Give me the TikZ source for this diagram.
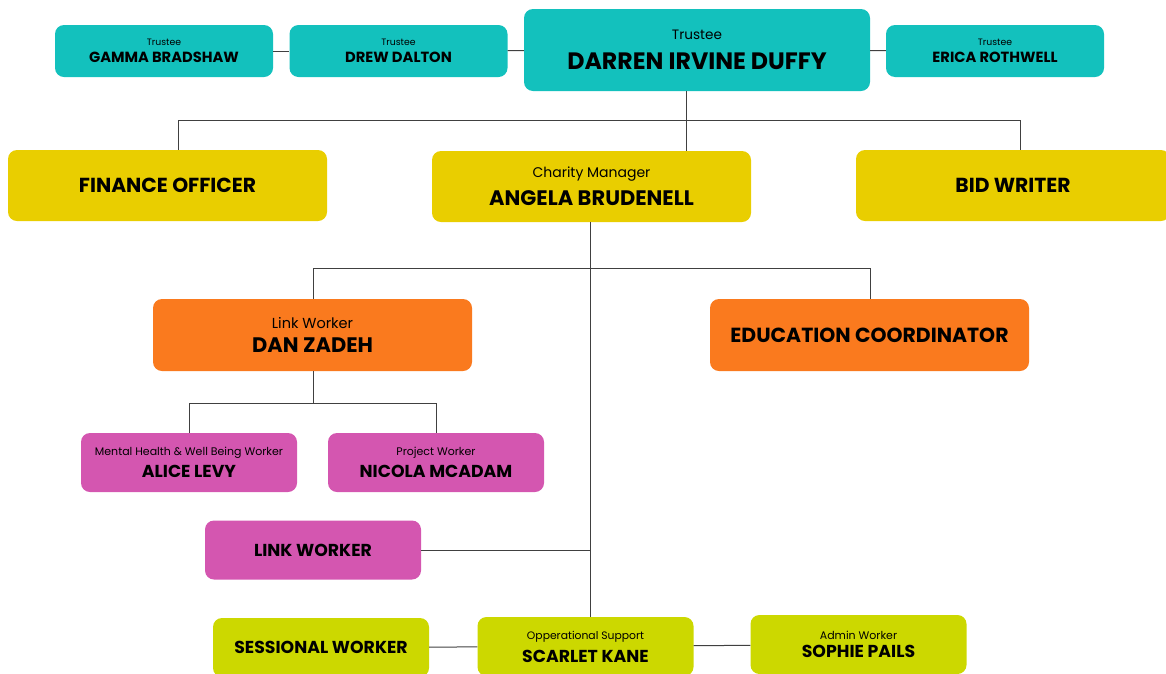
\documentclass[tikz,border=0pt]{standalone}
\usepackage{fontspec}
\setmainfont{Poppins}
\usetikzlibrary{positioning}
\definecolor{trusteeteal}{RGB}{19,193,189}
\definecolor{managergold}{RGB}{233,206,0}
\definecolor{workerorange}{RGB}{250,122,30}
\definecolor{workerpink}{RGB}{212,86,176}
\definecolor{supportlime}{RGB}{204,216,0}
\tikzset{
	wire/.style = {line width=1pt, draw=black!75},
	box/.style = {draw=none, rounded corners=9pt, align=center, inner sep=0pt},
	trustee/.style = {box, fill=trusteeteal, minimum width=218pt, minimum height=52pt},
	manager/.style = {box, fill=managergold, minimum width=319pt, minimum height=71pt},
	worker/.style = {box, fill=workerorange, minimum width=319pt, minimum height=72pt},
	staff/.style = {box, fill=workerpink, minimum width=216pt, minimum height=59pt},
	support/.style = {box, fill=supportlime, minimum width=216pt, minimum height=59pt}
}
% role line, then name line
\newcommand{\card}[5]{\fontsize{#1}{#1}\selectfont #2\\[#5]\fontsize{#3}{#3}\selectfont\bfseries #4}
\newcommand{\solo}[2]{\fontsize{#1}{#1}\selectfont\bfseries #2}
\begin{document}
\begin{tikzpicture}[x=1pt,y=-1pt]
	\useasboundingbox (0,0) rectangle (1166,673);
	% trustees
	\node (gamma) [trustee] at (164,51) {\card{9.3}{Trustee}{14.7}{GAMMA BRADSHAW}{5pt}};
	\node (drew) [trustee] at (398.5,51) {\card{9.3}{Trustee}{14.7}{DREW DALTON}{5pt}};
	\node (darren) [trustee, minimum width=346pt, minimum height=82pt] at (697,50) {\card{13.6}{Trustee}{23.7}{DARREN IRVINE DUFFY}{12pt}};
	\node (erica) [trustee] at (995,51) {\card{9.3}{Trustee}{14.7}{ERICA ROTHWELL}{5pt}};
	% management
	\node (finance) [manager] at (167.5,185.5) {\solo{20.3}{FINANCE OFFICER}};
	\node (angela) [manager] at (591.5,186.5) {\card{14}{Charity Manager}{21}{ANGELA BRUDENELL}{8pt}};
	\node (bid) [manager, minimum width=314pt] at (1013,185.5) {\solo{20.3}{BID WRITER}};
	% link and education
	\node (dan) [worker] at (312.5,335) {\card{14.5}{Link Worker}{21}{DAN ZADEH}{8pt}};
	\node (education) [worker] at (869.5,335) {\solo{20.4}{EDUCATION COORDINATOR}};
	% workers
	\node (alice) [staff] at (189,462.5) {\card{11}{Mental Health \& Well Being Worker}{17.3}{ALICE LEVY}{6pt}};
	\node (nicola) [staff] at (436,462.5) {\card{11}{Project Worker}{17.3}{NICOLA MCADAM}{6pt}};
	\node (link) [staff] at (313,550) {\solo{17.3}{LINK WORKER}};
	% support
	\node (sessional) [support] at (321,647.5) {\solo{17.3}{SESSIONAL WORKER}};
	\node (scarlet) [support] at (585.5,646.5) {\card{10.8}{Opperational Support}{17.3}{SCARLET KANE}{7pt}};
	\node (sophie) [support] at (858.5,644.5) {\card{11}{Admin Worker}{17.3}{SOPHIE PAILS}{5pt}};
	% bus points
	\coordinate (topbus) at (686,120);
	\coordinate (topbusl) at (178,120);
	\coordinate (topbusr) at (1020,120);
	\coordinate (midbus) at (590,268);
	\coordinate (midbusl) at (313,268);
	\coordinate (midbusr) at (870,268);
	\coordinate (lowbus) at (313,403);
	\coordinate (lowbusl) at (189,403);
	\coordinate (lowbusr) at (436,403);
	% connectors
	\draw[wire] (gamma) -- (drew);
	\draw[wire] (drew) -- (darren);
	\draw[wire] (darren) -- (erica);
	\draw[wire] (darren.south -| topbus) -- (topbus);
	\draw[wire] (topbusl) -- (topbusr);
	\draw[wire] (topbusl) -- (finance.north -| topbusl);
	\draw[wire] (topbus) -- (angela.north -| topbus);
	\draw[wire] (topbusr) -- (bid.north -| topbusr);
	\draw[wire] (angela.south -| midbus) -- (scarlet.north -| midbus);
	\draw[wire] (midbusl) -- (midbusr);
	\draw[wire] (midbusl) -- (dan.north -| midbusl);
	\draw[wire] (midbusr) -- (education.north -| midbusr);
	\draw[wire] (dan.south -| lowbus) -- (lowbus);
	\draw[wire] (lowbusl) -- (lowbusr);
	\draw[wire] (lowbusl) -- (alice.north -| lowbusl);
	\draw[wire] (lowbusr) -- (nicola.north -| lowbusr);
	\draw[wire] (link.east) -- (link.east -| midbus);
	\draw[wire] (sessional) -- (scarlet);
	\draw[wire] (scarlet) -- (sophie);
\end{tikzpicture}
\end{document}
